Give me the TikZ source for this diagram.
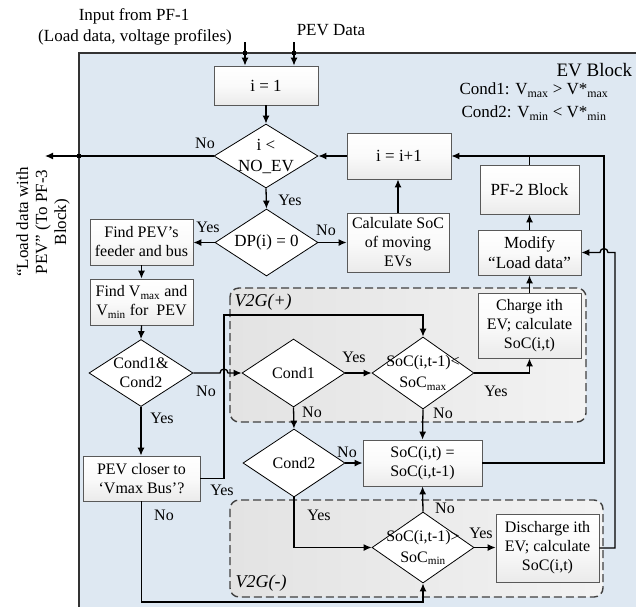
\documentclass[tikz,border=0pt]{standalone}
\usepackage{fontspec}
\setmainfont{Liberation Serif}
\usetikzlibrary{shapes.geometric,arrows.meta}
\definecolor{evblue}{HTML}{DEE8F2}
\begin{document}
\begin{tikzpicture}[x=1pt,y=-1pt,
  font=\fontsize{16}{19}\selectfont,
  conn/.style={line width=1.3pt,-{Latex[length=8pt,width=7pt]}},
  wire/.style={line width=1.3pt},
  box/.style={draw=black!65,line width=0.8pt,top color=white,bottom color=black!8,middle color=black!2,rectangle,align=center,inner sep=1pt},
  dia/.style={draw=black,line width=0.8pt,fill=white,diamond,inner sep=0pt},
  dtext/.style={align=center,inner sep=0pt},
  lbl/.style={inner sep=1pt},
  jdot/.style={fill=black,minimum size=4.5pt,inner sep=0pt,rectangle},
  v2gregion/.style={draw=black!75,dash pattern=on 8pt off 4pt,line width=1.4pt,rounded corners=9pt,left color=black!11,right color=black!5}
]
\useasboundingbox (0,0) rectangle (636,606);
\fill[white] (0,0) rectangle (636,606);
% EV block background
\path[draw=black!80,line width=1.2pt,fill=evblue] (79,53) rectangle (720,720);
% V2G regions
\path[v2gregion] (230,288) rectangle (586,422);
\path[v2gregion] (230,500) rectangle (603,597);
\node[anchor=west,font=\fontsize{18}{20}\selectfont\itshape] (vp) at (231,302) {V2G(+)};
\node[anchor=west,font=\fontsize{18}{20}\selectfont\itshape] (vm) at (232,583) {V2G(-)};

% top texts
\node[font=\fontsize{17}{20}\selectfont] (inA) at (134,16) {Input from PF-1};
\node[font=\fontsize{17}{20}\selectfont] (inB) at (135,37) {(Load data, voltage profiles)};
\node[font=\fontsize{17}{20}\selectfont] (inC) at (331,30) {PEV Data};
\node[anchor=west,font=\fontsize{19}{22}\selectfont] (evb) at (553,70) {EV Block};
\node[font=\fontsize{17}{20}\selectfont] (c1) at (534,90) {Cond1: V\textsubscript{max} > V*\textsubscript{max}};
\node[font=\fontsize{17}{20}\selectfont] (c2) at (534,113) {Cond2: V\textsubscript{min} < V*\textsubscript{min}};
\node[rotate=90,align=center,font=\fontsize{17}{19}\selectfont] (outtxt) at (43,222) {“Load data with\\PEV” (To PF-3\\Block)};

% boxes
\node[box,minimum width=104pt,minimum height=39pt,font=\fontsize{17}{20}\selectfont] (i1) at (266,85.5) {i = 1};
\node[box,minimum width=104pt,minimum height=46pt,font=\fontsize{17}{20}\selectfont] (inc) at (399,156) {i = i+1};
\node[box,minimum width=102pt,minimum height=59pt] (calc) at (398,242.5) {Calculate SoC\\of moving\\EVs};
\node[box,minimum width=99pt,minimum height=49pt,font=\fontsize{17}{20}\selectfont] (pf2) at (529.5,189.5) {PF-2 Block};
\node[box,minimum width=103pt,minimum height=45pt,font=\fontsize{17}{20}\selectfont] (mod) at (529.5,252.5) {Modify\\“Load data”};
\node[box,minimum width=103pt,minimum height=65pt] (chg) at (529.5,325.5) {Charge ith\\EV; calculate\\SoC(i,t)};
\node[box,minimum width=103pt,minimum height=46pt] (find1) at (141.5,242) {Find PEV’s\\feeder and bus};
\node[box,minimum width=103pt,minimum height=46pt] (find2) at (141.5,302) {Find V\textsubscript{max} and\\V\textsubscript{min} for\ \ PEV};
\node[box,minimum width=117pt,minimum height=45pt] (closer) at (141.5,478.5) {PEV closer to\\‘Vmax Bus’?};
\node[box,minimum width=119pt,minimum height=46pt] (same) at (422.5,463) {SoC(i,t) =\\SoC(i,t-1)};
\node[box,minimum width=103pt,minimum height=68pt] (dis) at (547.5,548) {Discharge ith\\EV; calculate\\SoC(i,t)};

% diamonds
\node[dia,minimum width=104pt,minimum height=64pt] (dA) at (266,156) {};
\node[dtext,font=\fontsize{17}{21}\selectfont] (tA) at (dA) {i <\\NO\_EV};
\node[dia,minimum width=103pt,minimum height=67pt] (dB) at (266.5,242.5) {};
\node[dtext,font=\fontsize{17}{20}\selectfont] (tB) at (dB) {DP(i) = 0};
\node[dia,minimum width=104pt,minimum height=67pt] (dC) at (141,373) {};
\node[dtext] (tC) at (dC) {Cond1\&\\Cond2};
\node[dia,minimum width=103pt,minimum height=68pt] (dD) at (293.5,373) {};
\node[dtext] (tD) at (dD) {Cond1};
\node[dia,minimum width=102pt,minimum height=72pt] (dE) at (423,373) {};
\node[dtext,font=\fontsize{16}{21}\selectfont] (tE) at (dE) {SoC(i,t-1)<\\SoC\textsubscript{max}};
\node[dia,minimum width=102pt,minimum height=68pt] (dF) at (294,463) {};
\node[dtext] (tF) at (dF) {Cond2};
\node[dia,minimum width=102pt,minimum height=71pt] (dG) at (423,547.5) {};
\node[dtext,font=\fontsize{16}{21}\selectfont] (tG) at (dG) {SoC(i,t-1)>\\SoC\textsubscript{min}};

% free ends
\coordinate (in1) at (245,42);
\coordinate (in2) at (294,42);
\coordinate (outp) at (45,156);

% connectors
\draw[conn] (in1) -- (in1 |- i1.north);
\draw[conn] (in2) -- (in2 |- i1.north);
\node[jdot] (j1) at (245,53) {};
\node[jdot] (j2) at (294,53) {};
\draw[conn] (i1.south) -- (dA.north);
\draw[conn] (dA.west) -- (outp);
\node[jdot] (j3) at (79,156) {};
\draw[conn] (dA.south) -- (dB.north);
\draw[conn] (dB.west) -- (dB.west -| find1.east);
\draw[conn] (dB.east) -- (dB.east -| calc.west);
\draw[conn] (calc.north) -- (calc.north |- inc.south);
\draw[conn] (inc.west) -- (dA.east);
\draw[conn] (find1.south) -- (find2.north);
\draw[conn] (find2.south) -- (dC.north);
\draw[conn] (dC.south) -- (dC.south |- closer.north);
\draw[conn] (dC.east) -- (220,373) arc (180:360:4) -- (dD.west);
\draw[wire] (closer.east) -- (224,478.5) -- (224,315) -- (dE.north |- 0,315);
\draw[conn] (dE.north |- 0,314) -- (dE.north);
\draw[conn] (dD.east) -- (dE.west);
\draw[conn] (dE.east) -- (chg.south |- dE.east) -- (chg.south);
\draw[conn] (chg.north) -- (mod.south);
\draw[conn] (mod.north) -- (pf2.south);
\draw[wire] (pf2.north) -- (pf2.north |- inc.east);
\draw[conn] (same.east) -- (604,463) -- (604,156) -- (inc.east);
\draw[conn] (dD.south) -- (dF.north);
\draw[conn] (dF.east) -- (same.west);
\draw[conn] (dE.south) -- (same.north);
\draw[conn] (dF.south) -- (dF.south |- dG.west) -- (dG.west);
\draw[conn] (dG.north) -- (same.south);
\draw[conn] (dG.east) -- (dG.east -| dis.west);
\draw[conn] (dis.east) -- (615,548) -- (615,252.5) -- (608,252.5) arc (0:-180:4) -- (mod.east);
\draw[conn] (closer.south) -- (141.5,602) -- (423,602) -- (dG.south);

% labels
\node[lbl] (l1) at (205,143) {No};
\node[lbl] (l2) at (290,200) {Yes};
\node[lbl] (l3) at (208,227) {Yes};
\node[lbl] (l4) at (326,230) {No};
\node[lbl] (l5) at (206,391) {No};
\node[lbl] (l6) at (162,418) {Yes};
\node[lbl] (l7) at (354,357) {Yes};
\node[lbl] (l8) at (496,391) {Yes};
\node[lbl] (l9) at (312,412) {No};
\node[lbl] (l10) at (443,413) {No};
\node[lbl] (l11) at (347,452) {No};
\node[lbl] (l12) at (222,490) {Yes};
\node[lbl] (l13) at (164,515) {No};
\node[lbl] (l14) at (319,515) {Yes};
\node[lbl] (l15) at (445,508) {No};
\node[lbl] (l16) at (481,533) {Yes};
\end{tikzpicture}
\end{document}
